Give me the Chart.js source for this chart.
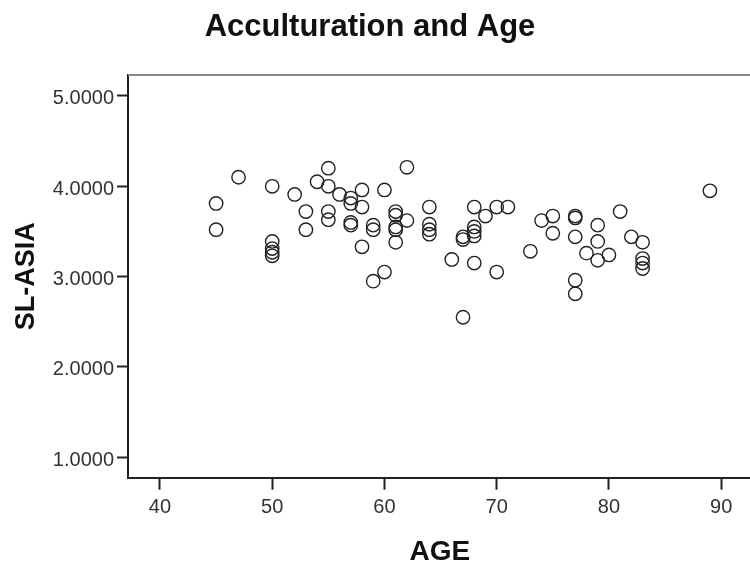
<!DOCTYPE html>
<html>
<head>
<meta charset="utf-8">
<script src="https://cdn.jsdelivr.net/npm/chart.js@4.4.1/dist/chart.umd.min.js"></script>
<style>
  html, body { margin: 0; padding: 0; background: #fff; overflow: hidden; }
  #box { position: absolute; left: 0; top: 0; width: 760px; height: 567px; }
</style>
</head>
<body>
<div id="box"><canvas id="myChart"></canvas></div>
<script>
// data
const chartTitle = "Acculturation and Age";
const xTitle = "AGE";
const yTitle = "SL-ASIA";
const xTicks = [40, 50, 60, 70, 80, 90];
const yTicks = [1, 2, 3, 4, 5];

const ages = [
  45, 45, 47, 50, 50, 50, 50, 50,
  52, 53, 53, 54, 55, 55, 55, 55,
  56, 57, 57, 57, 57, 58, 58, 58,
  59, 59, 59, 60, 60, 61, 61, 61, 61, 61,
  62, 62, 64, 64, 64, 64, 66, 67, 67, 67,
  68, 68, 68, 68, 68, 69, 70, 70, 71, 73,
  74, 75, 75, 77, 77, 77, 77, 77, 78, 79,
  79, 79, 80, 81, 82, 83, 83, 83, 83, 89
];
const scores = [
  3.81, 3.52, 4.10, 4.00, 3.39, 3.31, 3.27, 3.23,
  3.91, 3.72, 3.52, 4.05, 4.20, 4.00, 3.72, 3.63,
  3.91, 3.87, 3.81, 3.60, 3.57, 3.96, 3.77, 3.33,
  3.57, 3.52, 2.95, 3.96, 3.05, 3.72, 3.68, 3.55, 3.52, 3.38,
  4.21, 3.62, 3.77, 3.58, 3.52, 3.47, 3.19, 3.44, 3.41, 2.55,
  3.77, 3.55, 3.50, 3.45, 3.15, 3.67, 3.77, 3.05, 3.77, 3.28,
  3.62, 3.67, 3.48, 3.67, 3.65, 3.44, 2.96, 2.81, 3.26, 3.57,
  3.39, 3.18, 3.24, 3.72, 3.44, 3.38, 3.20, 3.15, 3.09, 3.95
];

const fontFam = "'Liberation Sans', Arial, sans-serif";

// рамка графика (верхняя линия серая)
const framePlugin = {
  id: "frame",
  afterDraw(chart) {
    const { ctx, chartArea } = chart;
    ctx.save();
    ctx.strokeStyle = "#8a8a8a";
    ctx.lineWidth = 2;
    ctx.beginPath();
    ctx.moveTo(chartArea.left, chartArea.top);
    ctx.lineTo(chartArea.right, chartArea.top);
    ctx.stroke();
    ctx.restore();
  },
};

// заголовок
const titlePlugin = {
  id: "bigTitle",
  afterDraw(chart) {
    const ctx = chart.ctx;
    ctx.save();
    ctx.fillStyle = "#111";
    ctx.font = "bold 31px " + fontFam;
    ctx.textAlign = "center";
    ctx.textBaseline = "middle";
    ctx.fillText(chartTitle, 370, 27);
    ctx.restore();
  },
};

const ctx = document.getElementById("myChart").getContext("2d");

const chart = new Chart(ctx, {
  type: "scatter",
  data: {
    datasets: [
      {
        data: ages.map((a, i) => ({ x: a, y: scores[i] })),
        pointStyle: "circle",
        pointRadius: 6.7,
        pointBorderWidth: 1.4,
        pointBorderColor: "#222",
        pointBackgroundColor: "rgba(0,0,0,0)",
      },
    ],
  },
  options: {
    responsive: true,
    maintainAspectRatio: false,
    animation: false,
    layout: { padding: { left: 0, top: 75, right: 4, bottom: 0 } },
    plugins: {
      legend: { display: false },
      tooltip: { enabled: false },
      title: { display: false },
    },
    scales: {
      x: {
        type: "linear",
        min: 37.15,
        max: 92.74,
        afterBuildTicks: (s) => { s.ticks = xTicks.map((v) => ({ value: v })); },
        afterFit: (s) => { s.height = 89.3; },
        grid: {
          drawOnChartArea: false,
          drawTicks: true,
          tickLength: 12,
          tickWidth: 2,
          tickColor: "#222",
        },
        border: { display: true, color: "#222", width: 2 },
        ticks: {
          padding: 6,
          color: "#333",
          font: { family: fontFam, size: 20 },
          callback: (v) => String(v),
          maxRotation: 0,
        },
        title: {
          display: true,
          text: xTitle,
          color: "#111",
          font: { family: fontFam, size: 28, weight: "bold" },
          padding: { top: 0, bottom: -2 },
        },
      },
      y: {
        type: "linear",
        min: 0.774,
        max: 5.232,
        afterBuildTicks: (s) => { s.ticks = yTicks.map((v) => ({ value: v })); },
        afterFit: (s) => { s.width = 128; },
        grid: {
          drawOnChartArea: false,
          drawTicks: true,
          tickLength: 11,
          tickWidth: 2,
          tickColor: "#222",
        },
        border: { display: true, color: "#222", width: 2 },
        ticks: {
          padding: 3,
          labelOffset: 3,
          color: "#333",
          font: { family: fontFam, size: 20 },
          callback: (v) => Number(v).toFixed(4),
        },
        title: {
          display: true,
          text: yTitle,
          color: "#111",
          font: { family: fontFam, size: 27, weight: "bold" },
          padding: { top: 10, bottom: 0 },
        },
      },
    },
  },
  plugins: [framePlugin, titlePlugin],
});
</script>
</body>
</html>
